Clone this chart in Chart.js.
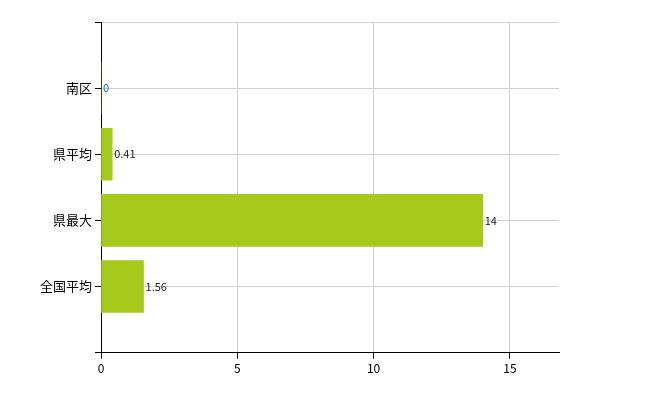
<!DOCTYPE html>
<html><head><meta charset="utf-8">
<script src="https://cdn.jsdelivr.net/npm/chart.js@4"></script>
<style>body{margin:0;background:#fff}#wrap{width:650px;height:400px}</style>
</head><body><div id="wrap"><canvas id="c"></canvas></div>
<script>
const categories = ['', '南区', '県平均', '県最大', '全国平均', ''];
const values = [null, 0, 0.41, 14, 1.56, null];
const valueLabels = ['', '0', '0.41', '14', '1.56', ''];
const xTicks = [0, 5, 10, 15];

// value text right of each bar
const barLabels = {
    id: 'barLabels',
    afterDatasetsDraw(chart) {
        const ctx = chart.ctx;
        const meta = chart.getDatasetMeta(0);
        ctx.save();
        ctx.font = '11px "Noto Sans CJK JP", sans-serif';
        ctx.textBaseline = 'middle';
        meta.data.forEach((bar, i) => {
            if (values[i] === null) return;
            ctx.fillStyle = values[i] === 0 ? '#1a6fb0' : '#222';
            ctx.fillText(valueLabels[i], bar.x + 2, bar.y);
        });
        ctx.restore();
    }
};

new Chart(document.getElementById('c'), {
    type: 'bar',
    data: {
        labels: categories,
        datasets: [{
            data: values,
            backgroundColor: '#a6c91c',
            barThickness: 52
        }]
    },
    plugins: [barLabels],
    options: {
        indexAxis: 'y',
        responsive: true,
        maintainAspectRatio: false,
        animation: false,
        layout: { padding: { left: 37, right: 91, top: 22, bottom: 21 } },
        plugins: { legend: { display: false }, tooltip: { enabled: false } },
        scales: {
            x: {
                min: 0, max: 16.8,
                afterBuildTicks(axis) { axis.ticks = xTicks.map(v => ({ value: v })); },
                grid: { color: '#d0d0d8', tickLength: 6, tickColor: '#000' },
                border: { color: '#000' },
                ticks: { color: '#000', font: { size: 12, family: 'Noto Sans CJK JP' } }
            },
            y: {
                offset: false,
                grid: { offset: false, color: '#d0d0d8', tickLength: 6, tickColor: '#000' },
                border: { color: '#000' },
                ticks: { color: '#000', font: { size: 13, family: 'Noto Sans CJK JP' } }
            }
        }
    }
});
</script></body></html>
